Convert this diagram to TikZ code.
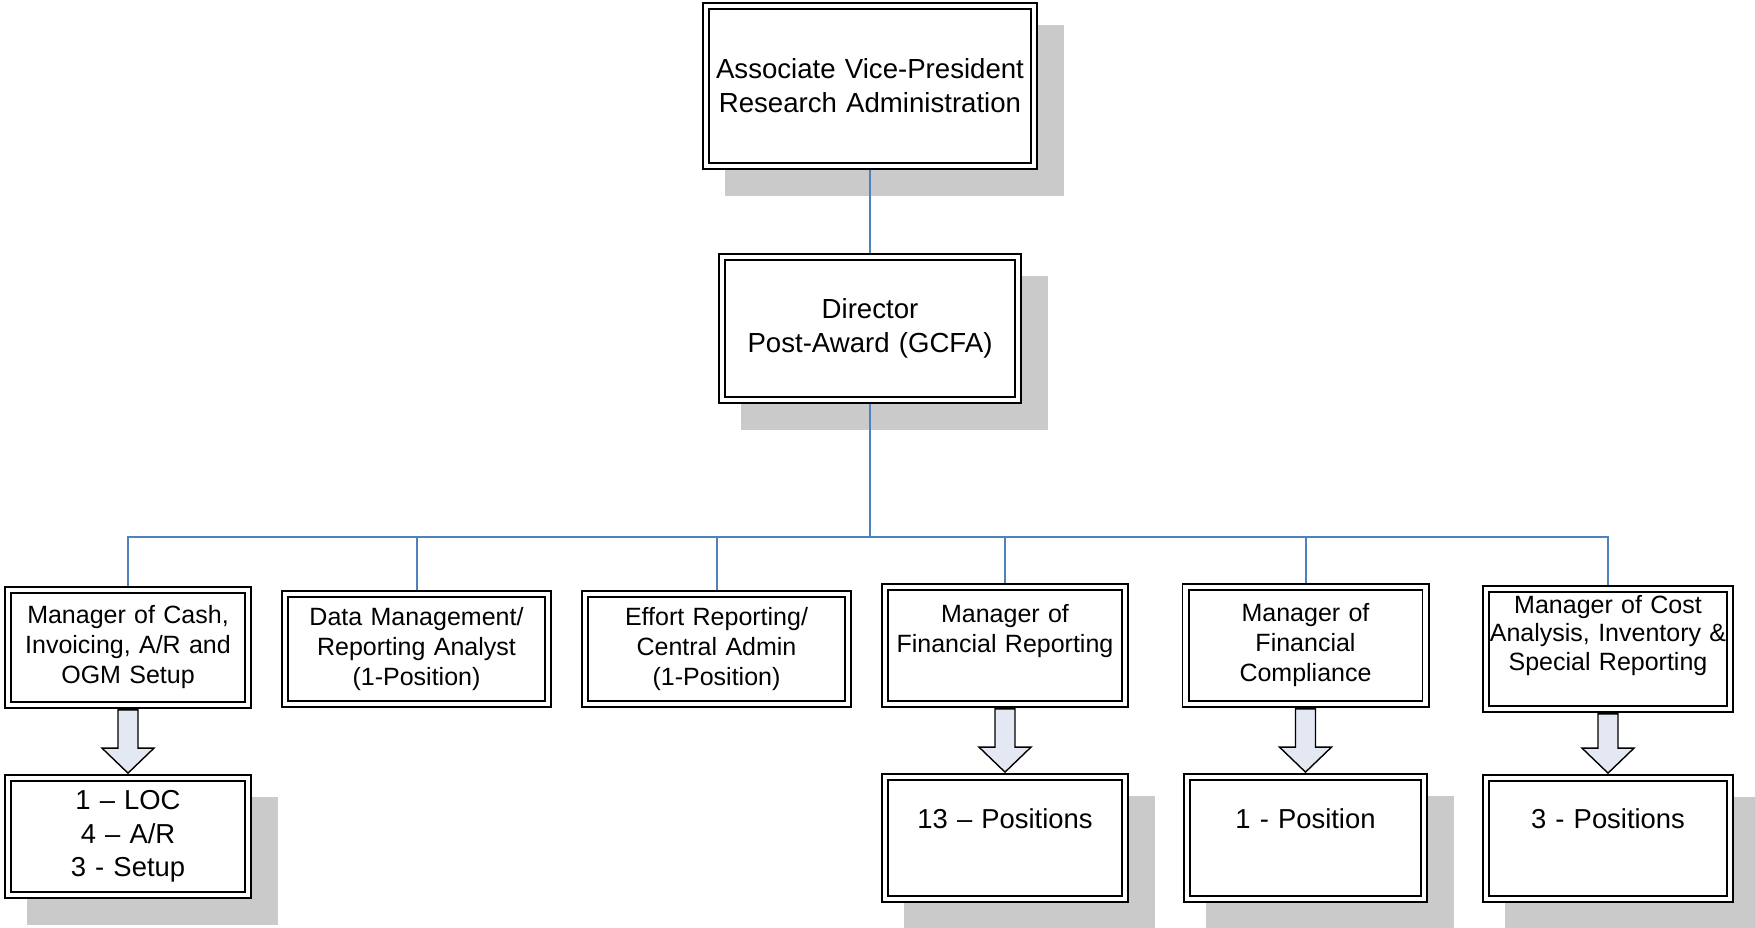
\documentclass[tikz,border=0pt]{standalone}
\usepackage{fontspec}
\setmainfont{Liberation Sans}
\usetikzlibrary{calc,backgrounds}
\definecolor{linkblue}{RGB}{79,129,189}
\definecolor{shadowgray}{RGB}{202,202,202}
\definecolor{arrowfill}{RGB}{227,232,243}

% block arrow from the bottom of one box to the top of the next
\newcommand{\downblock}[2]{%
  \draw[blockarrow] ($(#1.south)+(-10,4)$) -- ($(#2.north)+(-10,-29)$) -- ($(#2.north)+(-26,-29)$)
    -- ($(#2.north)+(0,-4)$) -- ($(#2.north)+(26,-29)$) -- ($(#2.north)+(10,-29)$)
    -- ($(#1.south)+(10,4)$) -- cycle;}

\begin{document}
\begin{tikzpicture}[x=0.5pt, y=-0.5pt,
   orgbox/.style={draw=black, line width=0.9pt, double, double distance=2.2pt, fill=white, inner sep=0pt, align=center},
   headbox/.style={orgbox, text width=160pt, font=\fontsize{13.8}{17}\selectfont},
   mgrbox/.style={orgbox, text width=118pt, font=\fontsize{12.5}{15}\selectfont},
   countbox/.style={orgbox, text width=116pt, font=\fontsize{13.7}{16.75}\selectfont},
   link/.style={linkblue, line width=1pt},
   blockarrow/.style={draw=black, line width=0.7pt, fill=arrowfill, line join=miter}]
   \useasboundingbox (0,0) rectangle (1755,927);

   \node[headbox, minimum width=164pt, minimum height=80pt] (avp) at (870,86) {Associate Vice-President\\Research Administration};
   \node[headbox, text width=140pt, minimum width=148pt, minimum height=71.5pt] (dir) at (870,328.5) {Director\\Post-Award (GCFA)};

   \node[mgrbox, minimum width=120pt, minimum height=57.5pt] (cash) at (128,647.5) {Manager of Cash,\\Invoicing, A/R and\\OGM Setup};
   \node[mgrbox, minimum width=131.5pt, minimum height=55pt] (data) at (416.5,649) {Data Management/\\Reporting Analyst\\(1-Position)};
   \node[mgrbox, minimum width=131.5pt, minimum height=55pt] (effort) at (716.5,649) {Effort Reporting/\\Central Admin\\(1-Position)};
   \node[mgrbox, minimum width=120pt, minimum height=58.5pt, text depth=32pt] (finrep) at (1005,645.5) {Manager of\\Financial Reporting};
   \node[mgrbox, minimum width=120pt, minimum height=58.5pt] (comply) at (1305.5,645.5) {Manager of\\Financial\\Compliance};
   \node[mgrbox, text width=122pt, text depth=45pt, minimum width=122pt, minimum height=60pt, font=\fontsize{12.5}{14.25}\selectfont] (cost) at (1608,649) {Manager of Cost\\Analysis, Inventory \&\\Special Reporting};

   \node[countbox, minimum width=120pt, minimum height=58.5pt] (cashpos) at (128,836.5) {1 – LOC\\4 – A/R\\3 - Setup};
   \node[countbox, text height=10pt, text depth=20pt, minimum width=120pt, minimum height=61pt] (finreppos) at (1005,838) {13 – Positions};
   \node[countbox, text height=10pt, text depth=20pt, minimum width=118.5pt, minimum height=61pt] (complypos) at (1305.5,838) {1 - Position};
   \node[countbox, text height=10pt, text depth=20pt, minimum width=122pt, minimum height=60.5pt] (costpos) at (1608,838.5) {3 - Positions};

   \begin{scope}[on background layer]
   % shadows
   \fill[shadowgray] ($(avp.north west)+(20,20)$) rectangle ($(avp.south east)+(29,29)$);
   \fill[shadowgray] ($(dir.north west)+(20,20)$) rectangle ($(dir.south east)+(29,29)$);
   \fill[shadowgray] ($(cashpos.north west)+(20,20)$) rectangle ($(cashpos.south east)+(29,29)$);
   \fill[shadowgray] ($(finreppos.north west)+(20,20)$) rectangle ($(finreppos.south east)+(29,29)$);
   \fill[shadowgray] ($(complypos.north west)+(20,20)$) rectangle ($(complypos.south east)+(29,29)$);
   \fill[shadowgray] ($(costpos.north west)+(20,20)$) rectangle ($(costpos.south east)+(29,29)$);
   % reporting lines
   \coordinate (bus) at (870,537);
   \draw[link] (avp) -- (dir);
   \draw[link] (dir) -- (bus);
   \draw[link] (cash.north) |- (bus) -| (cost.north);
   \draw[link] (data.north) -- (data.north |- bus);
   \draw[link] (effort.north) -- (effort.north |- bus);
   \draw[link] (finrep.north) -- (finrep.north |- bus);
   \draw[link] (comply.north) -- (comply.north |- bus);
   \end{scope}

   \downblock{cash}{cashpos}
   \downblock{finrep}{finreppos}
   \downblock{comply}{complypos}
   \downblock{cost}{costpos}
\end{tikzpicture}
\end{document}
